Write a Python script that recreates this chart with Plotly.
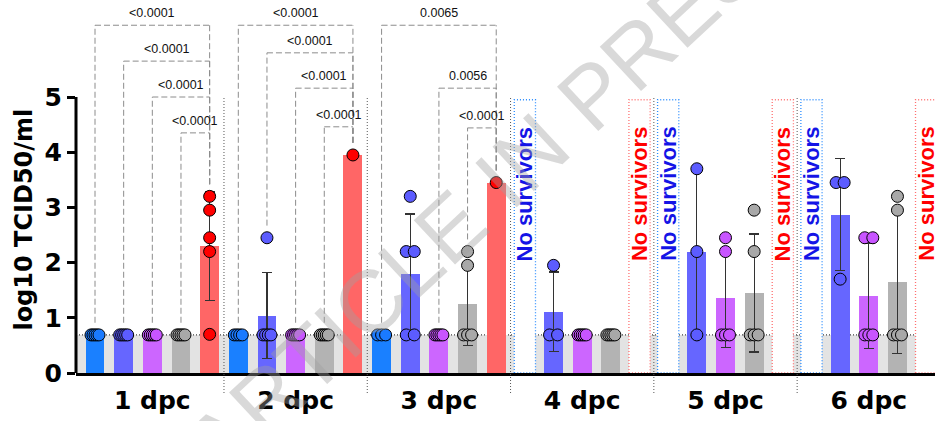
import numpy as np
import plotly.graph_objects as go

# ---------------- data ----------------
groups = ["1 dpc", "2 dpc", "3 dpc", "4 dpc", "5 dpc", "6 dpc"]
series = ["Group A", "Group B", "Group C", "Group D", "Group E"]
LOD = 0.69

mean_a = [0.69, 0.69, 0.69, None, None, None]
mean_b = [0.69, 1.04, 1.80, 1.11, 2.20, 2.87]
mean_c = [0.69, 0.69, 0.69, 0.69, 1.36, 1.40]
mean_d = [0.69, 0.69, 1.25, 0.69, 1.45, 1.65]
mean_e = [2.30, 3.95, 3.45, None, None, None]

sd_a = [0, 0, 0, 0, 0, 0]
sd_b = [0, 0.78, 1.08, 0.72, 1.50, 1.01]
sd_c = [0, 0, 0, 0, 0.90, 0.95]
sd_d = [0, 0, 0.75, 0, 1.07, 1.30]
sd_e = [0.98, 0, 0, 0, 0, 0]

pts_a = [[0.69] * 5, [0.69] * 4, [0.69] * 3, [], [], []]
pts_b = [[0.69] * 5, [2.45, 0.69, 0.69, 0.69, 0.69], [3.2, 2.2, 2.2, 0.69, 0.69],
         [1.95, 0.69, 0.69], [3.7, 2.2, 0.69], [3.45, 3.45, 1.7]]
pts_c = [[0.69] * 5, [0.69] * 5, [0.69] * 5, [0.69] * 5,
         [2.45, 2.2, 0.69, 0.69, 0.69], [2.45, 2.45, 0.69, 0.69, 0.69]]
pts_d = [[0.69] * 5, [0.69] * 5, [2.2, 1.95, 0.69, 0.69, 0.69], [0.69] * 5,
         [2.95, 2.2, 0.69, 0.69, 0.69], [3.2, 2.95, 0.69, 0.69, 0.69]]
pts_e = [[3.2, 2.95, 2.45, 2.2, 0.7], [3.95], [3.45], [], [], []]

# "No survivors" columns: (group index, series index)
no_survivors = [(3, 0), (3, 4), (4, 0), (4, 4), (5, 0), (5, 4)]

# significance brackets (group, left series, right series, label, bracket height)
br_group = [0, 0, 0, 0, 1, 1, 1, 1, 2, 2, 2]
br_left = [0, 1, 2, 3, 0, 1, 2, 3, 0, 2, 3]
br_right = [4] * 11
br_label = ["<0.0001"] * 8 + ["0.0065", "0.0056", "<0.0001"]
br_height = [6.30, 5.65, 5.00, 4.35, 6.30, 5.80, 5.16, 4.46, 6.30, 5.16, 4.44]

# ---------------- styles ----------------
means = [mean_a, mean_b, mean_c, mean_d, mean_e]
sds = [sd_a, sd_b, sd_c, sd_d, sd_e]
pts = [pts_a, pts_b, pts_c, pts_d, pts_e]
bar_colors = ["#1a80ff", "#6666ff", "#cc66ff", "#b3b3b3", "#ff6666"]
pt_colors = ["#1a7aff", "#5c5cff", "#c855ff", "#a8a8a8", "#ff0000"]
ns_line = {0: "#2a8cff", 4: "#ff7070"}
ns_text = {0: "#1414e6", 4: "#ff0000"}
NS = len(series)
YMAX = 373 / 55.2

def slot(g, c):
    return g * NS + c

fig = go.Figure()

for ci in range(NS):
    xs, ys, es = [], [], []
    for g in range(len(groups)):
        if means[ci][g] is not None:
            xs.append(slot(g, ci))
            ys.append(means[ci][g])
            es.append(sds[ci][g])
    fig.add_trace(go.Bar(
        x=xs, y=ys, width=0.66, name=series[ci], showlegend=False,
        marker=dict(color=bar_colors[ci], line=dict(width=0)),
        error_y=dict(type="data", array=es, visible=True, color="#333333",
                     thickness=1.2, width=5)))

for ci in range(NS):
    px, py = [], []
    for g in range(len(groups)):
        vals = pts[ci][g]
        uniq = {}
        for i, v in enumerate(vals):
            uniq.setdefault(v, []).append(i)
        for v, idx in uniq.items():
            n = len(idx)
            offs = np.linspace(-0.14, 0.14, n) if n > 1 else [0.0]
            for o in offs:
                px.append(slot(g, ci) + o)
                py.append(v)
    fig.add_trace(go.Scatter(
        x=px, y=py, mode="markers", showlegend=False, cliponaxis=False,
        marker=dict(size=12, color=pt_colors[ci], line=dict(width=1, color="black"))))

shapes = []
# grey band under limit of detection
shapes.append(dict(type="rect", xref="paper", yref="y", x0=0, x1=1, y0=0, y1=LOD,
                   fillcolor="#e3e3e3", line=dict(width=0), layer="below"))
shapes.append(dict(type="line", xref="paper", yref="y", x0=0, x1=1, y0=LOD, y1=LOD,
                   line=dict(color="#444444", width=1.2, dash="1px,2px"), layer="below"))
# No survivors boxes
annotations = []
for g, c in no_survivors:
    s = slot(g, c)
    shapes.append(dict(type="rect", xref="x", yref="y", x0=s - 0.37, x1=s + 0.37,
                       y0=0, y1=4.95, fillcolor="white",
                       line=dict(color=ns_line[c], width=1.3, dash="1px,2px"),
                       layer="below"))
    annotations.append(dict(x=s, y=3.25, xref="x", yref="y", text="No survivors",
                            showarrow=False, textangle=-90,
                            font=dict(family="Liberation Sans, Arial", size=22,
                                      color=ns_text[c], weight="bold")))
# group separators
for g in range(1, len(groups)):
    xsep = slot(g, 0) - 0.5
    shapes.append(dict(type="line", xref="x", yref="paper", x0=xsep, x1=xsep,
                       y0=-20 / 373, y1=5 / YMAX,
                       line=dict(color="#555555", width=1, dash="1px,2px")))
# y axis line (0..5)
shapes.append(dict(type="line", xref="paper", yref="y", x0=0, x1=0, y0=0, y1=5,
                   line=dict(color="black", width=3)))
# significance brackets
dash = "6px,3px"
bcol = "#8c8c8c"
for g, l, r, lab, h in zip(br_group, br_left, br_right, br_label, br_height):
    xl, xr = slot(g, l), slot(g, r)
    lb = max(pts[l][g]) + 0.22
    rb = max(pts[r][g]) + 0.22
    shapes.append(dict(type="line", xref="x", yref="y", x0=xl, x1=xl, y0=lb, y1=h,
                       line=dict(color=bcol, width=1, dash=dash)))
    shapes.append(dict(type="line", xref="x", yref="y", x0=xl, x1=xr, y0=h, y1=h,
                       line=dict(color=bcol, width=1, dash=dash)))
    shapes.append(dict(type="line", xref="x", yref="y", x0=xr, x1=xr, y0=rb, y1=h,
                       line=dict(color=bcol, width=1, dash=dash)))
    annotations.append(dict(x=(xl + xr) / 2, y=h, xref="x", yref="y", text=lab,
                            showarrow=False, yanchor="middle", yshift=12,
                            font=dict(family="Liberation Sans, Arial", size=12.5,
                                      color="#111111")))

# y axis title
annotations.append(dict(x=-51.5 / 859, y=2.77, xref="paper", yref="y",
                        xanchor="center", yanchor="middle",
                        text="log10 TCID50/ml", showarrow=False, textangle=-90,
                        font=dict(family="DejaVu Sans", size=24, color="black",
                                  weight="bold")))
# watermark
annotations.append(dict(x=(495 - 76) / 859, y=(373 - 185) / 373, xref="paper",
                        yref="paper", text="ARTICLE IN PRESS", showarrow=False,
                        textangle=-43, xanchor="center", yanchor="middle",
                        font=dict(family="Liberation Sans, Arial", size=88,
                                  color="rgba(160,160,160,0.40)")))

fig.update_layout(
    width=935, height=421,
    margin=dict(l=76, r=0, t=0, b=48),
    plot_bgcolor="white", paper_bgcolor="white",
    barmode="overlay", bargap=0,
    shapes=shapes, annotations=annotations,
    xaxis=dict(range=[-0.663, 29.31], tickvals=[slot(g, 2) for g in range(len(groups))],
               ticktext=groups, ticks="", showline=True, linewidth=3, linecolor="black",
               showgrid=False, zeroline=False, ticklabelstandoff=3,
               tickfont=dict(family="DejaVu Sans", size=25, color="black", weight="bold")),
    yaxis=dict(range=[0, YMAX], tickvals=[0, 1, 2, 3, 4, 5], ticks="outside",
               ticklen=8, tickwidth=3, tickcolor="black", showline=False,
               showgrid=False, zeroline=False,
               tickfont=dict(family="DejaVu Sans", size=25, color="black", weight="bold")),
)

fig.write_html("out.html")
